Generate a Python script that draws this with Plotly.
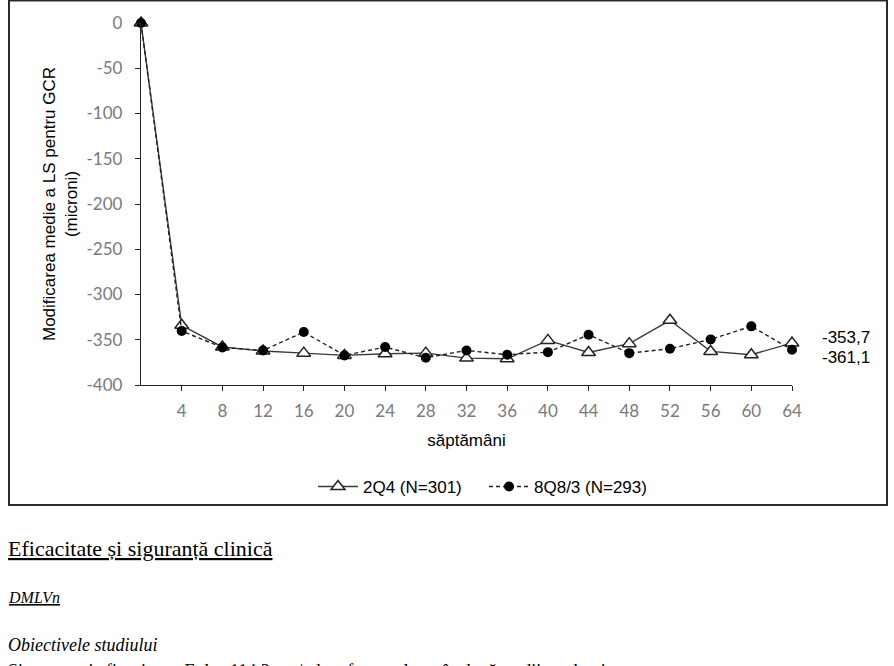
import plotly.graph_objects as go

weeks = [0, 4, 8, 12, 16, 20, 24, 28, 32, 36, 40, 44, 48, 52, 56, 60, 64]
s_2q4 = [0, -334, -358, -362.5, -364.8, -367.3, -365.4, -364.8, -370.3, -371,
         -350.7, -364, -354.3, -328.5, -362.9, -366.5, -353.7]
s_8q8 = [0, -340.4, -358.5, -361.8, -341.5, -367.3, -358.1, -369.9, -361.8, -366.5,
         -363.7, -344.4, -364.8, -359.9, -349.6, -335.2, -361.1]
name_2q4 = "2Q4 (N=301)"
name_8q8 = "8Q8/3 (N=293)"
end_labels = ["-353,7", "-361,1"]
y_ticks = [0, -50, -100, -150, -200, -250, -300, -350, -400]
x_ticks = weeks[1:]

W, H = 894, 666
L, R, T, B = 141, 102, 23, 281
PW, PH = W - L - R, H - T - B


def px(x):
    return (x - L) / PW


def py(y):
    return (H - B - y) / PH


fig = go.Figure()
fig.add_trace(go.Scatter(
    x=weeks, y=s_2q4, name=name_2q4, mode="lines+markers",
    line=dict(color="#3a3a3a", width=1.4),
    marker=dict(symbol="triangle-up", size=12, color="white",
                line=dict(color="#222", width=1.5)),
    cliponaxis=False))
fig.add_trace(go.Scatter(
    x=weeks, y=s_8q8, name=name_8q8, mode="lines+markers",
    line=dict(color="#222", width=1.4, dash="4px,3px"),
    marker=dict(symbol="circle", size=10, color="black"),
    cliponaxis=False))

tickfont = dict(family="Lato, Carlito, sans-serif", size=17, color="#7a7a7a")
fig.update_layout(
    width=W, height=H, margin=dict(l=L, r=R, t=T, b=B, pad=0),
    paper_bgcolor="white", plot_bgcolor="white",
    font=dict(family="Arial, Liberation Sans, sans-serif", size=17, color="black"),
    showlegend=True,
    legend=dict(orientation="h", x=px(484), xanchor="center", y=py(487), yanchor="middle",
                font=dict(size=17, family="Arial, Liberation Sans, sans-serif"),
                itemwidth=40, bgcolor="rgba(0,0,0,0)", traceorder="normal",
                entrywidth=116, entrywidthmode="pixels"),
    xaxis=dict(range=[0, 64], tickvals=x_ticks, ticktext=[str(v) for v in x_ticks],
               showgrid=False, zeroline=False, showline=True, linecolor="#222", linewidth=1.3,
               ticks="outside", ticklen=5, tickcolor="#222", ticklabelstandoff=5,
               tickfont=tickfont,
               title=dict(text="săptămâni", font=dict(size=17), standoff=14)),
    yaxis=dict(range=[-400, 0], tickvals=y_ticks, ticktext=[str(v) for v in y_ticks],
               showgrid=False, zeroline=False, showline=True, linecolor="#222", linewidth=1.3,
               ticks="outside", ticklen=5, tickcolor="#222", ticklabelstandoff=9,
               tickfont=tickfont,
               title=dict(text="Modificarea medie a LS pentru GCR<br>(microni)",
                          font=dict(size=17), standoff=4)),
)

# frame box around chart
fig.add_shape(type="rect", xref="paper", yref="paper",
              x0=px(9), x1=px(887), y0=py(505), y1=py(0.5),
              line=dict(color="#2a2a2a", width=2), layer="below")

# end labels
fig.add_annotation(text=end_labels[0], xref="paper", yref="paper", x=px(821), y=py(337),
                   xanchor="left", yanchor="middle", showarrow=False, font=dict(size=17),
                   borderpad=0)
fig.add_annotation(text=end_labels[1], xref="paper", yref="paper", x=px(821), y=py(357),
                   xanchor="left", yanchor="middle", showarrow=False, font=dict(size=17),
                   borderpad=0)

# document text below
serif = "Times New Roman, Liberation Serif, serif"
fig.add_annotation(text="<u>Eficacitate și siguranță clinică</u>", xref="paper", yref="paper",
                   x=px(6), y=py(548), xanchor="left", yanchor="middle", showarrow=False,
                   font=dict(family=serif, size=22))
fig.add_annotation(text="<u><i>DMLVn</i></u>", xref="paper", yref="paper",
                   x=px(6), y=py(597), xanchor="left", yanchor="middle", showarrow=False,
                   font=dict(family=serif, size=16))
fig.add_annotation(text="<i>Obiectivele studiului</i>", xref="paper", yref="paper",
                   x=px(6), y=py(645), xanchor="left", yanchor="middle", showarrow=False,
                   font=dict(family=serif, size=18))
fig.add_annotation(text="Siguranța și eficacitatea Eylea 114,3 mg/ml au fost evaluate în două studii randomizate",
                   xref="paper", yref="paper",
                   x=px(6), y=py(671), xanchor="left", yanchor="middle", showarrow=False,
                   font=dict(family=serif, size=18))

fig.write_html("out.html")
